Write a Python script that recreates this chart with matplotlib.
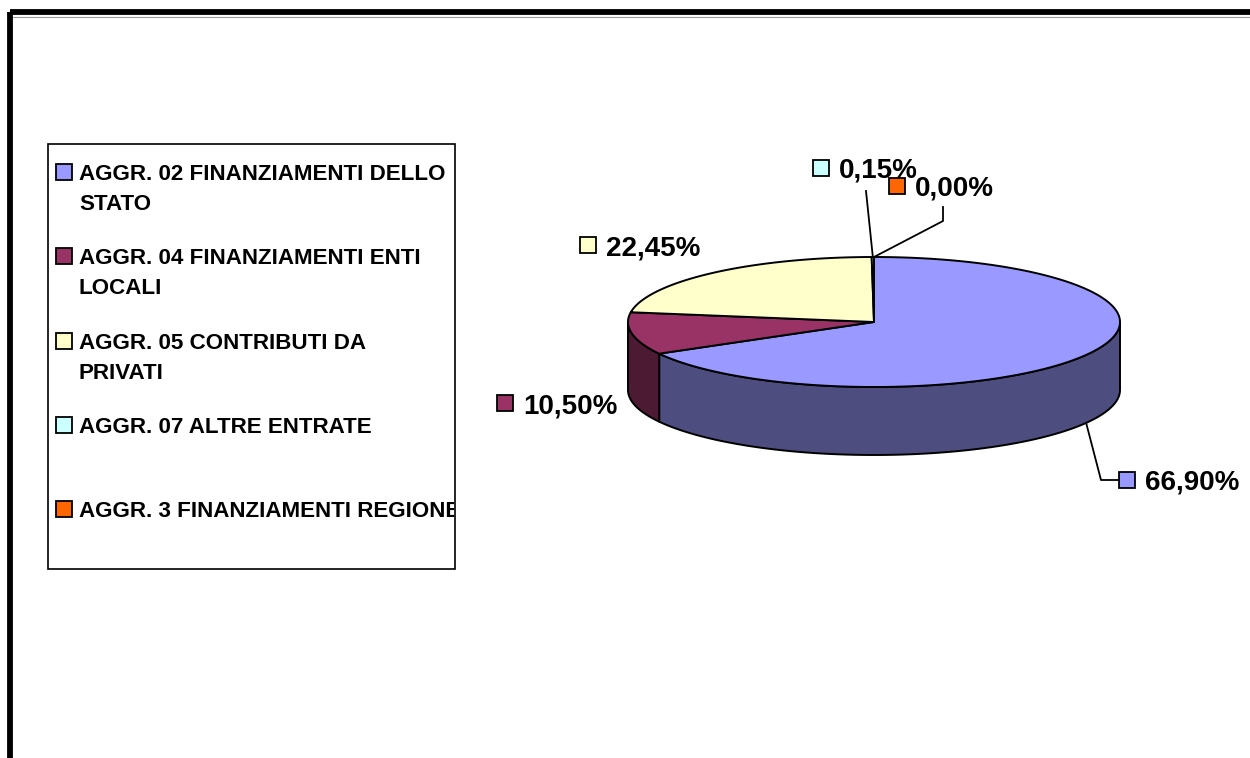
import numpy as np
import matplotlib.pyplot as plt
from matplotlib.patches import Polygon, Rectangle
from matplotlib.transforms import Bbox, TransformedBbox

plt.rcParams['font.family'] = ['Liberation Sans', 'DejaVu Sans']

categories = [
    "AGGR. 02 FINANZIAMENTI DELLO\nSTATO",
    "AGGR. 04 FINANZIAMENTI ENTI\nLOCALI",
    "AGGR. 05 CONTRIBUTI DA\nPRIVATI",
    "AGGR. 07 ALTRE ENTRATE",
    "AGGR. 3 FINANZIAMENTI REGIONE",
]
values = [66.90, 10.50, 22.45, 0.15, 0.00]
top_colors = ["#9999FF", "#993366", "#FFFFCC", "#CCFFFF", "#FF6600"]
side_colors = ["#4D4D80", "#4D1A33", "#80806A", "#6A8080", "#803300"]

# pie geometry in pixels (y grows downwards)
cx, cy, rx, ry, depth = 874, 322, 246, 65, 68

# marker centres of the data labels, and elbow points of the leader lines
label_pos = [(1127, 480), (505, 403), (588, 245), (821, 168), (897, 186)]
leaders = {0: [(1101, 480), (1118, 480)], 3: [(866, 191)], 4: [(943, 221), (943, 207)]}


def ell(a, dz=0.0):
    # a: angle clockwise from 12 o'clock
    return cx + rx * np.sin(a), cy - ry * np.cos(a) + dz


fig = plt.figure(figsize=(12.5, 7.58), dpi=100)
ax = fig.add_axes([0, 0, 1, 1])
ax.set_xlim(0, 1250)
ax.set_ylim(758, 0)
ax.axis('off')

# outer frame
ax.add_patch(Rectangle((10, 12), 1300, 800, fill=False, lw=4.2, ec='black', zorder=1,
                       clip_on=False))
ax.plot([13, 1250], [16.5, 16.5], color='#999999', lw=0.8, zorder=1)

bounds = np.concatenate([[0], np.cumsum(values)]) / sum(values) * 2 * np.pi

# side walls (front half only)
for i in range(len(values)):
    lo = max(bounds[i], np.pi / 2)
    hi = min(bounds[i + 1], 3 * np.pi / 2)
    if hi <= lo:
        continue
    t = np.linspace(lo, hi, 120)
    xs, ys = ell(t)
    px = np.concatenate([xs, xs[::-1]])
    py = np.concatenate([ys, ys[::-1] + depth])
    ax.add_patch(Polygon(np.column_stack([px, py]), closed=True, fc=side_colors[i],
                         ec='black', lw=1.4, zorder=2, joinstyle='round'))

# top face
for i in range(len(values)):
    a0, a1 = bounds[i], bounds[i + 1]
    if a1 - a0 <= 0:
        continue
    t = np.linspace(a0, a1, max(int((a1 - a0) * 80), 3))
    xs, ys = ell(t)
    px = np.concatenate([[cx], xs])
    py = np.concatenate([[cy], ys])
    ax.add_patch(Polygon(np.column_stack([px, py]), closed=True, fc=top_colors[i],
                         ec='black', lw=1.4, zorder=3, joinstyle='round'))

# data labels
sq = 16
for i, v in enumerate(values):
    mid = (bounds[i] + bounds[i + 1]) / 2
    mx, my = label_pos[i]
    if i in leaders:
        if np.cos(mid) < 0:
            ax0, ay0 = ell(mid, depth)
        else:
            ax0, ay0 = ell(mid)
        pts = [(ax0, ay0)] + leaders[i]
        ax.plot([p[0] for p in pts], [p[1] for p in pts], color='black', lw=1.3, zorder=4)
    ax.add_patch(Rectangle((mx - sq / 2, my - sq / 2), sq, sq, fc=top_colors[i],
                           ec='black', lw=1.3, zorder=5 + 2 * i))
    txt = f"{v:.2f}%".replace('.', ',')
    ax.text(mx + 18, my + 10, txt, fontsize=20, fontweight='bold', va='baseline',
            ha='left', zorder=6 + 2 * i)

# legend (text is cut off at the box edge)
ax.add_patch(Rectangle((48, 144), 407, 425, fill=False, ec='black', lw=1.2, zorder=4))
clip = TransformedBbox(Bbox.from_extents(48, 144, 454, 569), ax.transData)
for i, lab in enumerate(categories):
    yc = 172 + i * 84.3
    ax.add_patch(Rectangle((56, yc - 8), 16, 16, fc=top_colors[i], ec='black', lw=1.3, zorder=5))
    for k, line in enumerate(lab.split('\n')):
        t = ax.text(79, yc + 8 + k * 30, line, fontsize=16.1, fontweight='bold',
                    va='baseline', ha='left', zorder=5, clip_on=True)
        t.set_clip_box(clip)

fig.savefig('out.png', dpi=100)
